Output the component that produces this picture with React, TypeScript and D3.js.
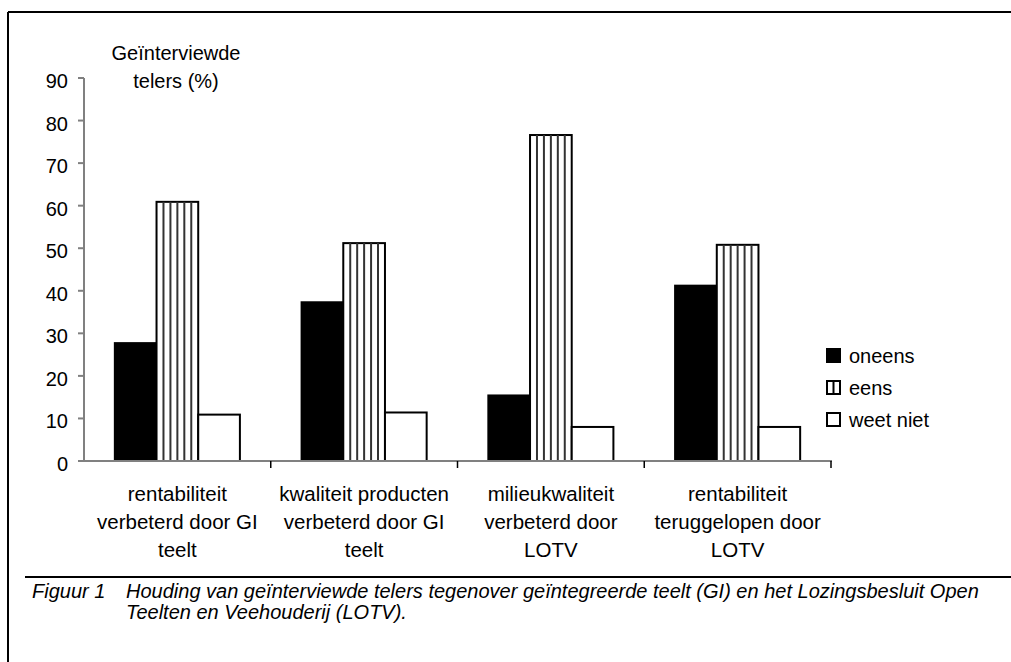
import React from "react";
import * as d3 from "d3";

const categories = [
  ["rentabiliteit", "verbeterd door GI", "teelt"],
  ["kwaliteit producten", "verbeterd door GI", "teelt"],
  ["milieukwaliteit", "verbeterd door", "LOTV"],
  ["rentabiliteit", "teruggelopen door", "LOTV"],
];
const seriesNames = ["oneens", "eens", "weet niet"];
const oneens = [27.7, 37.3, 15.4, 41.2];
const eens = [60.9, 51.2, 76.6, 50.8];
const weetNiet = [10.9, 11.4, 8.0, 8.0];
const yTicks = [0, 10, 20, 30, 40, 50, 60, 70, 80, 90];
const yLabel = ["Geïnterviewde", "telers (%)"];
const captionNum = "Figuur 1";
const caption = [
  "Houding van geïnterviewde telers tegenover geïntegreerde teelt (GI) en het Lozingsbesluit Open",
  "Teelten en Veehouderij (LOTV).",
];

const W = 1011;
const H = 662;
const font = "'Liberation Sans', Arial, sans-serif";

const App = () => {
  const keys = categories.map((c) => c.join(" "));
  const values = [oneens, eens, weetNiet];

  const x0 = d3.scaleBand().domain(keys).range([84, 831]);
  const x1 = d3
    .scaleBand()
    .domain(seriesNames)
    .range([0, x0.bandwidth()])
    .paddingOuter(0.74);
  const y = d3.scaleLinear().domain([0, 90]).range([461, 78]);

  const bars = keys.flatMap((k, i) =>
    seriesNames.map((s, j) => ({
      s,
      j,
      x: (x0(k) || 0) + (x1(s) || 0),
      w: x1.bandwidth(),
      y: y(values[j][i]),
      h: y(0) - y(values[j][i]),
    }))
  );

  return (
    <svg
      width={W}
      height={H}
      style={{ position: "absolute", left: 0, top: 0, background: "#fff" }}
      fontFamily={font}
    >
      {/* frame */}
      <line x1={8} y1={12} x2={W} y2={12} stroke="#000" strokeWidth={2} />
      <line x1={8} y1={12} x2={8} y2={H} stroke="#000" strokeWidth={2} />

      {/* y label */}
      {yLabel.map((t, i) => (
        <text key={t} x={176} y={60 + i * 28} fontSize={20} textAnchor="middle" fill="#000">
          {t}
        </text>
      ))}

      {/* bars */}
      {bars.map((b, i) => (
        <g key={i}>
          <rect
            x={b.x}
            y={b.y}
            width={b.w}
            height={b.h}
            fill={b.j === 0 ? "#000" : "#fff"}
            stroke="#000"
            strokeWidth={2}
          />
          {b.j === 1 &&
            d3.range(1, 6).map((n) => (
              <line
                key={n}
                x1={b.x + (n * b.w) / 6}
                x2={b.x + (n * b.w) / 6}
                y1={b.y}
                y2={b.y + b.h}
                stroke="#333"
                strokeWidth={2}
              />
            ))}
        </g>
      ))}

      {/* y axis */}
      <line x1={84} y1={y(90)} x2={84} y2={y(0)} stroke="#808080" strokeWidth={2} />
      {yTicks.map((t) => (
        <g key={t}>
          <line x1={78} x2={84} y1={y(t)} y2={y(t)} stroke="#808080" strokeWidth={2} />
          <text x={68} y={y(t) + 10} fontSize={20} textAnchor="end" fill="#000">
            {t}
          </text>
        </g>
      ))}

      {/* x axis */}
      <line x1={78} y1={y(0)} x2={832} y2={y(0)} stroke="#808080" strokeWidth={2} />
      {keys.map((k) => (
        <line
          key={k}
          x1={(x0(k) || 0) + x0.bandwidth()}
          x2={(x0(k) || 0) + x0.bandwidth()}
          y1={y(0)}
          y2={y(0) + 7}
          stroke="#000"
          strokeWidth={1.5}
        />
      ))}
      {categories.map((c, i) =>
        c.map((line, l) => (
          <text
            key={i + "-" + l}
            x={(x0(keys[i]) || 0) + x0.bandwidth() / 2}
            y={501 + l * 28}
            fontSize={20.5}
            textAnchor="middle"
            fill="#000"
          >
            {line}
          </text>
        ))
      )}

      {/* legend */}
      {seriesNames.map((s, j) => (
        <g key={s} transform={`translate(827, ${349 + j * 32})`}>
          <rect x={0} y={0} width={13} height={13} fill={j === 0 ? "#000" : "#fff"} stroke="#000" strokeWidth={2} />
          {j === 1 && <line x1={6.5} x2={6.5} y1={0} y2={13} stroke="#000" strokeWidth={2} />}
          <text x={22} y={14} fontSize={20} fill="#000">
            {s}
          </text>
        </g>
      ))}

      {/* caption */}
      <line x1={25} y1={577} x2={W} y2={577} stroke="#000" strokeWidth={2} />
      <text x={32} y={598} fontSize={20} fontStyle="italic" fill="#000">
        {captionNum}
      </text>
      {caption.map((t, i) => (
        <text key={i} x={126} y={598 + i * 21} fontSize={20} fontStyle="italic" fill="#000">
          {t}
        </text>
      ))}
    </svg>
  );
};

export default App;
